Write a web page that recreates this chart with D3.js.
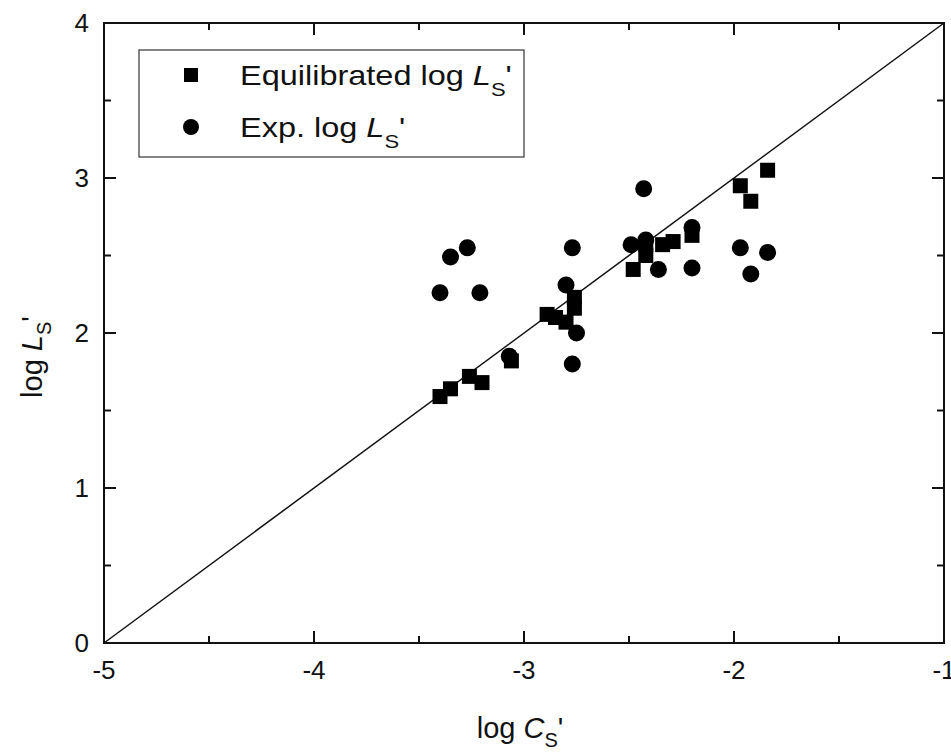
<!DOCTYPE html>
<html>
<head>
<meta charset="utf-8">
<script src="https://cdn.jsdelivr.net/npm/d3@7"></script>
<style>
  body { margin: 0; background: #fff; }
  svg text { font-family: Arial, "Liberation Sans", sans-serif; fill: #111; }
</style>
</head>
<body>
<svg id="chart" width="951" height="756"></svg>
<script>
// equilibrated log Ls' (squares)
let eqX = [-3.40, -3.35, -3.26, -3.20, -3.06, -2.89, -2.85, -2.80, -2.76, -2.76,
           -2.48, -2.42, -2.42, -2.34, -2.29, -2.20, -1.97, -1.92, -1.84];
let eqY = [1.59, 1.64, 1.72, 1.68, 1.82, 2.12, 2.10, 2.07, 2.23, 2.16,
           2.41, 2.50, 2.57, 2.57, 2.59, 2.63, 2.95, 2.85, 3.05];

// experimental log Ls' (circles)
let expX = [-3.40, -3.35, -3.27, -3.21, -3.07, -2.77, -2.80, -2.75, -2.77,
            -2.49, -2.43, -2.42, -2.36, -2.20, -2.20, -1.97, -1.92, -1.84];
let expY = [2.26, 2.49, 2.55, 2.26, 1.85, 2.55, 2.31, 2.00, 1.80,
            2.57, 2.93, 2.60, 2.41, 2.42, 2.68, 2.55, 2.38, 2.52];

let xTicks = [-5, -4, -3, -2, -1];
let yTicks = [0, 1, 2, 3, 4];

let svg = d3.select("#chart");
let pLeft = 104, pRight = 944, pTop = 23, pBottom = 643;

let x = d3.scaleLinear().domain([-5, -1]).range([pLeft, pRight]);
let y = d3.scaleLinear().domain([0, 4]).range([pBottom, pTop]);

let xMinor = d3.range(-4.5, -1, 1);
let yMinor = d3.range(0.5, 4, 1);

// frame ticks, pointing inward on all four sides
function tickMarks(g, ticks, len, fn) {
    g.selectAll(null).data(ticks).enter().append("line")
        .attr("stroke", "#111").attr("stroke-width", 2)
        .each(function (d) { fn(d3.select(this), d, len); });
}
let tg = svg.append("g");
[[xTicks, 12], [xMinor, 7]].forEach(function (p) {
    tickMarks(tg, p[0], p[1], function (s, d, l) {
        s.attr("x1", x(d)).attr("x2", x(d)).attr("y1", pBottom).attr("y2", pBottom - l);
    });
    tickMarks(tg, p[0], p[1], function (s, d, l) {
        s.attr("x1", x(d)).attr("x2", x(d)).attr("y1", pTop).attr("y2", pTop + l);
    });
});
[[yTicks, 12], [yMinor, 7]].forEach(function (p) {
    tickMarks(tg, p[0], p[1], function (s, d, l) {
        s.attr("y1", y(d)).attr("y2", y(d)).attr("x1", pLeft).attr("x2", pLeft + l);
    });
    tickMarks(tg, p[0], p[1], function (s, d, l) {
        s.attr("y1", y(d)).attr("y2", y(d)).attr("x1", pRight).attr("x2", pRight - l);
    });
});

svg.append("rect")
    .attr("x", pLeft).attr("y", pTop)
    .attr("width", pRight - pLeft).attr("height", pBottom - pTop)
    .attr("fill", "none").attr("stroke", "#111").attr("stroke-width", 2);

// tick labels
svg.selectAll(".xl").data(xTicks).enter().append("text")
    .attr("x", d => x(d)).attr("y", pBottom + 36)
    .attr("text-anchor", "middle").attr("font-size", 26)
    .text(d => d);
svg.selectAll(".yl").data(yTicks).enter().append("text")
    .attr("x", pLeft - 15).attr("y", d => y(d) + 9)
    .attr("text-anchor", "end").attr("font-size", 26)
    .text(d => d);

// 1:1 line
svg.append("line")
    .attr("x1", x(-5)).attr("y1", y(0))
    .attr("x2", x(-1)).attr("y2", y(4))
    .attr("stroke", "#111").attr("stroke-width", 1.5);

// points
let sq = 15;
svg.selectAll(".sq").data(eqX).enter().append("rect")
    .attr("x", (d, i) => x(d) - sq / 2)
    .attr("y", (d, i) => y(eqY[i]) - sq / 2)
    .attr("width", sq).attr("height", sq)
    .attr("fill", "#000");
svg.selectAll(".ci").data(expX).enter().append("circle")
    .attr("cx", (d, i) => x(d))
    .attr("cy", (d, i) => y(expY[i]))
    .attr("r", 8.5)
    .attr("fill", "#000");

// legend
let lg = svg.append("g");
lg.append("rect")
    .attr("x", 139).attr("y", 50).attr("width", 385).attr("height", 107)
    .attr("fill", "#fff").attr("stroke", "#333").attr("stroke-width", 1.2);
lg.append("rect").attr("x", 184).attr("y", 68).attr("width", 14).attr("height", 14).attr("fill", "#000");
lg.append("circle").attr("cx", 191).attr("cy", 127).attr("r", 8).attr("fill", "#000");

function lsText(sel, prefix) {
    sel.append("tspan").text(prefix);
    sel.append("tspan").attr("font-style", "italic").text("L");
    sel.append("tspan").attr("font-size", 19).attr("dy", 11).text("S");
    sel.append("tspan").attr("dy", -11).text("'");
}
lsText(lg.append("text").attr("transform", "translate(240,85) scale(1.16,1)").attr("font-size", 28), "Equilibrated log ");
lsText(lg.append("text").attr("transform", "translate(240,137) scale(1.16,1)").attr("font-size", 28), "Exp. log ");

// axis titles
let xt = svg.append("text").attr("x", 520).attr("y", 738)
    .attr("text-anchor", "middle").attr("font-size", 29);
xt.append("tspan").text("log ");
xt.append("tspan").attr("font-style", "italic").text("C");
xt.append("tspan").attr("font-size", 20).attr("dy", 9).text("S");
xt.append("tspan").attr("dy", -9).text("'");

let yt = svg.append("text").attr("transform", "translate(42,357) rotate(-90)")
    .attr("text-anchor", "middle").attr("font-size", 29);
yt.append("tspan").text("log ");
yt.append("tspan").attr("font-style", "italic").text("L");
yt.append("tspan").attr("font-size", 20).attr("dy", 9).text("S");
yt.append("tspan").attr("dy", -9).text("'");
</script>
</body>
</html>
